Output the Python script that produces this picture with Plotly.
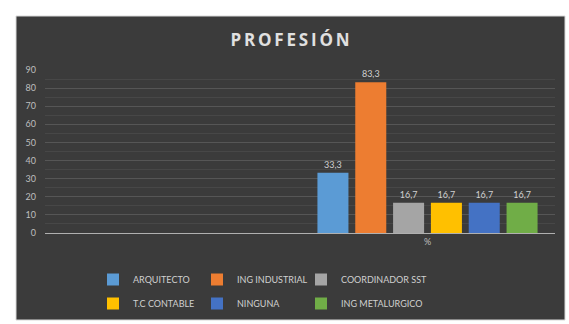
import plotly.graph_objects as go

categories = ["", "%"]
series_names = ["ARQUITECTO", "ING INDUSTRIAL", "COORDINADOR SST", "T.C CONTABLE", "NINGUNA", "ING METALURGICO"]
series_values = [33.3, 83.3, 16.7, 16.7, 16.7, 16.7]
series_labels = ["33,3", "83,3", "16,7", "16,7", "16,7", "16,7"]
colors = ["#5B9BD5", "#ED7D31", "#A5A5A5", "#FFC000", "#4472C4", "#70AD47"]
legend_rows = ["legend", "legend", "legend", "legend2", "legend2", "legend2"]
y_ticks = [0, 10, 20, 30, 40, 50, 60, 70, 80, 90]

fig = go.Figure()
for name, val, lab, col, lg in zip(series_names, series_values, series_labels, colors, legend_rows):
    fig.add_trace(go.Bar(
        x=categories, y=[None, val], name=name, legend=lg,
        marker=dict(color=col, line=dict(width=0)),
        text=["", lab], textposition="outside", cliponaxis=False,
        textfont=dict(color="#d0d0d0", size=9, family="Lato"),
    ))

# invisible spacer entries so the last legend text in each row is not clipped
for lg in ["legend", "legend2"]:
    fig.add_trace(go.Scatter(x=[None], y=[None], mode="markers", name="\u00a0" * 30, legend=lg,
                             marker=dict(color="rgba(0,0,0,0)", size=1, line=dict(width=0)),
                             hoverinfo="skip"))

W, H = 569, 324
L, R, T, B = 45, 14, 70, 91
pw, ph = W - L - R, H - T - B

def px(x):
    return (x - L) / pw

def py(y):
    return (H - B - y) / ph

fig.add_shape(type="rect", xref="paper", yref="paper",
              x0=px(16), x1=px(565), y0=py(320), y1=py(16),
              fillcolor="#3b3b3b", line=dict(color="#d8d8d8", width=1), layer="below")

legend_common = dict(orientation="h", xanchor="left", yanchor="top",
                     entrywidth=59, entrywidthmode="pixels",
                     font=dict(size=9, color="#d0d0d0", family="Lato"),
                     itemwidth=30, tracegroupgap=0, bgcolor="rgba(0,0,0,0)",
                     itemclick=False, itemdoubleclick=False)

fig.update_layout(
    width=W, height=H,
    margin=dict(l=L, r=R, t=T, b=B, autoexpand=False),
    paper_bgcolor="white", plot_bgcolor="rgba(0,0,0,0)",
    barmode="group", bargap=0.11, bargroupgap=0.18,
    font=dict(family="Lato", color="#d0d0d0", size=9),
    title=dict(text="<b>P\u2009R\u2009O\u2009F\u2009E\u2009S\u2009I\u2009Ó\u2009N</b>", x=px(290), xanchor="center", xref="paper",
               y=1 - 40 / H, yanchor="middle",
               font=dict(size=17, color="#e0e0e0", family="Open Sans")),
    xaxis=dict(showgrid=False, showline=True, linecolor="#b0b0b0", linewidth=1,
               ticks="", tickfont=dict(color="#bfbfbf", size=9)),
    yaxis=dict(range=[0, 90], tickvals=y_ticks, showline=False, zeroline=False,
               gridcolor="#565656", gridwidth=1, ticks="", ticklabelstandoff=8,
               tickfont=dict(color="#bfbfbf", size=9),
               minor=dict(dtick=5, showgrid=True, gridcolor="#474747", gridwidth=1)),
    legend=dict(x=px(93), y=py(265), **legend_common),
    legend2=dict(x=px(93), y=py(289), **legend_common),
    showlegend=True,
)

fig.write_html("out.html", config={"displayModeBar": False},
               post_script="document.body.style.margin='0';")
